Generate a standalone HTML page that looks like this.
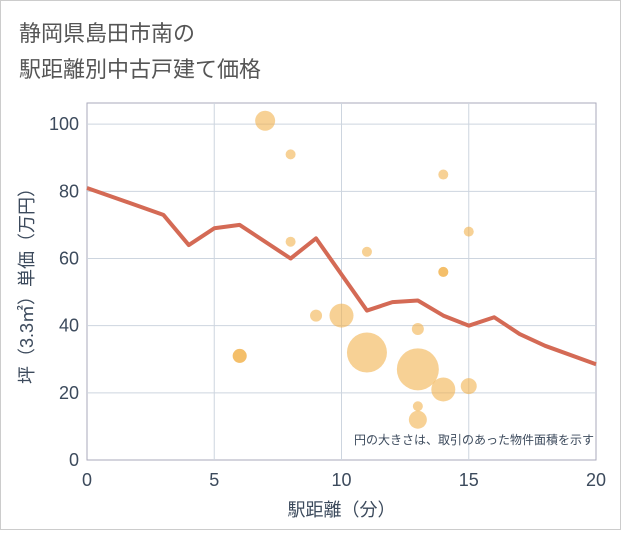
<!DOCTYPE html>
<html><head><meta charset="utf-8"><style>
body{margin:0;background:#fff;font-family:"Liberation Sans","Noto Sans CJK JP",sans-serif;}
#wrap{position:relative;width:619px;height:528px;border:1px solid #ccc;background:#fff;}
</style></head><body>
<div id="wrap">
<svg id="chart" width="619" height="528">
<text x="18" y="40" font-size="22" fill="#555">静岡県島田市南の</text>
<text x="18" y="76" font-size="22" fill="#555">駅距離別中古戸建て価格</text>
<g id="plot"></g>
</svg>
</div>
<script>
const lineX=[0,3,4,5,6,8,9,11,12,13,14,15,16,17,18,20];
const lineY=[81,73,64,69,70,60,66,44.5,47,47.5,43,40,42.5,37.5,34,28.5];
const bubX=[7,8,8,6,6,9,10,11,11,13,13,13,13,14,14,14,14,15,15];
const bubY=[101,91,65,31,31,43,43,62,32,27,39,16,12,85,56,56,21,68,22];
const bubR=[10,5,5,7,7,6,12,5,20,21,6,5,9,5,5,5,12,5,8];
const xTicks=[0,5,10,15,20];
const yTicks=[0,20,40,60,80,100];
const L=86,R=595,T=102,B=459;
const xs=v=>L+(v/20)*(R-L);
const ys=v=>B-(v/106.3)*(B-T);
const g=document.getElementById('plot');
const NS='http://www.w3.org/2000/svg';
function mk(t,a){const e=document.createElementNS(NS,t);for(const k in a)e.setAttribute(k,a[k]);g.appendChild(e);return e;}
let bg=mk('rect',{x:L,y:T,width:R-L,height:B-T,fill:'#fff',stroke:'#aab',"stroke-width":1});


xTicks.forEach(v=>{
 if(v>0&&v<20){let l=mk('line',{x1:xs(v),x2:xs(v),y1:T,y2:B,stroke:'#cdd5df'});
 
 }
 let t=mk('text',{x:xs(v),y:B+26,"font-size":18,fill:'#3c4a5c',"text-anchor":'middle'});t.textContent=v;
 
 
});
yTicks.forEach(v=>{
 if(v>0){let l=mk('line',{x1:L,x2:R,y1:ys(v),y2:ys(v),stroke:'#cdd5df'});
 
 }
 let t=mk('text',{x:L-8,y:ys(v)+6,"font-size":18,fill:'#3c4a5c',"text-anchor":'end'});t.textContent=v;
 
 
});
bubX.forEach((x,i)=>{
 let c=mk('circle',{cx:xs(x),cy:ys(bubY[i]),r:bubR[i],fill:'#f2b24f',"fill-opacity":0.6});
 
 
});
let p=mk('polyline',{points:lineX.map((x,i)=>xs(x)+','+ys(lineY[i])).join(' '),fill:'none',stroke:'#d46a55',"stroke-width":4,"stroke-linejoin":'round'});


let n=mk('text',{x:R-2,y:B-16,"font-size":12,fill:'#3c4a5c',"text-anchor":'end'});n.textContent='円の大きさは、取引のあった物件面積を示す';


let xt=mk('text',{x:(L+R)/2,y:B+56,"font-size":18,fill:'#3c4a5c',"text-anchor":'middle'});xt.textContent='駅距離（分）';


let yt=mk('text',{x:0,y:0,"font-size":18,fill:'#3c4a5c',"text-anchor":'middle',transform:`translate(32,${(T+B)/2}) rotate(-90)`});yt.textContent='坪（3.3㎡）単価（万円）';


</script>
</body></html>
